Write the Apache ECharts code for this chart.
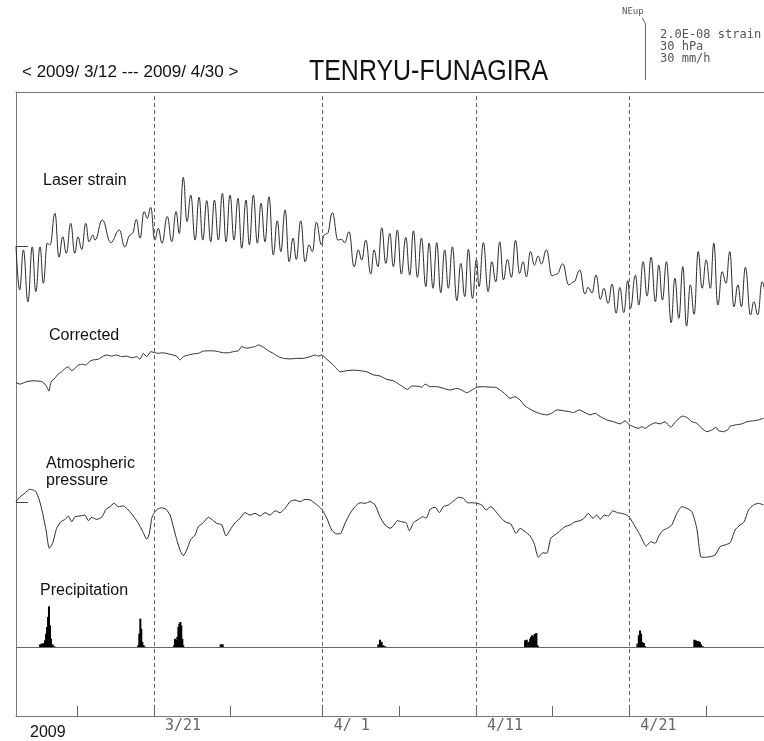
<!DOCTYPE html>
<html><head><meta charset="utf-8">
<script src="https://cdn.jsdelivr.net/npm/echarts@6/dist/echarts.min.js"></script>
<style>html,body{margin:0;padding:0;background:#fff}#c{width:764px;height:741px}</style>
</head><body><div id="c"></div>
<script>
// x values: days since 2009-03-12 00:00 (the plotted window is cut at the right page edge)
const tickDays = [4, 9, 14, 20, 25, 30, 35, 40, 45];
const labelDays = [9, 20, 30, 40];
const labelTexts = ['3/21', '4/ 1', '4/11', '4/21'];
const dashDays = [9, 20, 30, 40];

// Laser strain, 1e-9 strain (relative)
const laserStrain = [[0.00,0.0],[0.24,-15.7],[0.48,-1.4],[0.78,-19.9],[1.06,-0.3],[1.29,-16.3],[1.57,-0.3],[1.78,-13.3],[2.04,1.0],[2.22,0.4],[2.54,11.7],[2.80,-4.0],[3.05,3.3],[3.28,-2.6],[3.57,8.1],[3.83,-2.6],[4.04,3.3],[4.29,-1.2],[4.55,8.1],[4.76,1.5],[5.02,3.9],[5.15,2.1],[5.63,9.3],[6.18,1.2],[6.74,5.7],[7.09,-0.3],[7.44,3.9],[7.59,4.5],[7.85,9.5],[8.09,2.8],[8.35,12.3],[8.56,9.9],[8.79,13.8],[9.05,2.1],[9.28,6.3],[9.52,1.0],[9.87,10.5],[10.16,1.5],[10.44,12.3],[10.65,4.5],[10.91,24.5],[11.15,8.7],[11.40,18.2],[11.68,2.1],[11.94,17.4],[12.18,2.1],[12.44,16.2],[12.70,1.5],[12.94,16.4],[13.20,2.1],[13.46,18.8],[13.70,1.5],[13.96,18.2],[14.22,2.1],[14.48,17.0],[14.72,-0.8],[15.00,16.4],[15.22,0.4],[15.48,18.2],[15.74,1.0],[15.98,15.3],[16.24,1.5],[16.50,17.6],[16.78,-3.2],[17.04,9.0],[17.27,-2.0],[17.55,12.9],[17.81,-5.6],[18.07,2.8],[18.28,-4.8],[18.57,9.0],[18.85,-5.6],[19.11,0.4],[19.33,-2.0],[19.59,8.5],[19.92,0.4],[20.09,3.9],[20.31,4.5],[20.63,11.9],[21.00,2.1],[21.22,2.4],[21.44,1.2],[21.72,5.1],[22.05,-7.4],[22.33,-1.4],[22.55,-5.0],[22.81,2.1],[23.14,-10.0],[23.35,-1.4],[23.61,-7.4],[23.85,6.5],[24.12,-6.2],[24.38,4.5],[24.61,-7.4],[24.87,5.7],[25.13,-10.0],[25.42,3.1],[25.68,-10.4],[25.92,5.4],[26.18,-11.2],[26.44,2.8],[26.73,-14.5],[26.94,1.0],[27.20,-15.1],[27.44,1.2],[27.70,-16.7],[27.96,-1.4],[28.20,-15.1],[28.46,-0.3],[28.75,-19.5],[29.01,-6.2],[29.27,-18.1],[29.50,-1.2],[29.77,-18.7],[30.03,-4.8],[30.20,-14.5],[30.48,1.2],[30.79,-16.3],[31.03,-5.6],[31.29,-12.8],[31.55,1.5],[31.79,-12.1],[32.05,-4.8],[32.31,-11.2],[32.58,2.0],[32.84,-9.8],[33.07,-5.6],[33.29,-11.0],[33.55,-2.0],[33.81,-6.8],[34.05,-3.6],[34.27,-6.4],[34.59,-1.4],[34.96,-10.7],[35.29,-10.0],[35.66,-6.4],[36.05,-13.9],[36.38,-12.8],[36.77,-8.6],[37.10,-17.1],[37.31,-14.8],[37.57,-16.7],[37.83,-10.4],[38.12,-19.0],[38.34,-15.1],[38.62,-20.5],[38.88,-13.6],[39.14,-24.0],[39.38,-14.8],[39.64,-23.8],[39.90,-12.4],[40.07,-22.3],[40.40,-10.4],[40.62,-21.1],[40.90,-5.6],[41.16,-17.9],[41.42,-4.0],[41.70,-19.9],[41.92,-6.8],[42.16,-19.3],[42.42,-5.6],[42.73,-27.4],[42.97,-11.5],[43.23,-25.8],[43.49,-7.4],[43.73,-28.6],[43.98,-13.9],[44.23,-24.4],[44.49,-2.0],[44.75,-15.1],[45.01,-5.0],[45.29,-15.1],[45.51,1.0],[45.77,-21.1],[46.05,-9.2],[46.31,-13.3],[46.55,-2.0],[46.82,-21.7],[47.08,-13.9],[47.31,-21.7],[47.57,-7.6],[47.90,-24.6],[48.12,-19.9],[48.38,-24.6],[48.66,-12.8],[48.92,-19.3]];

// Corrected strain, 1e-9 strain (relative)
const corrected = [[0.00,0.1],[0.26,-0.4],[0.70,0.5],[1.13,0.8],[1.68,0.5],[1.94,-0.7],[2.15,-2.9],[2.26,-0.1],[2.39,1.1],[2.54,1.7],[2.69,2.9],[2.98,4.0],[3.20,5.2],[3.41,5.8],[3.63,4.4],[3.85,5.2],[4.06,6.4],[4.35,6.7],[4.57,6.4],[4.78,7.6],[5.00,8.2],[5.37,8.5],[5.69,9.6],[5.92,10.0],[6.24,9.6],[6.57,10.0],[6.89,9.4],[7.22,9.6],[7.55,9.0],[7.87,9.4],[8.09,8.5],[8.30,10.6],[8.53,9.4],[8.79,11.2],[9.07,10.8],[9.28,10.6],[9.61,10.8],[9.93,10.4],[10.26,10.0],[10.48,9.6],[10.70,8.2],[10.91,9.4],[11.24,10.0],[11.57,10.4],[11.89,10.6],[12.22,11.4],[12.54,11.5],[12.87,11.5],[13.20,11.2],[13.52,10.8],[13.85,10.8],[14.17,11.2],[14.50,11.5],[14.72,13.0],[15.05,12.4],[15.38,12.8],[15.59,13.0],[15.81,13.6],[16.13,12.8],[16.46,11.5],[16.78,10.6],[17.11,9.4],[17.44,8.8],[17.87,8.6],[18.31,8.8],[18.74,8.8],[19.18,9.4],[19.50,10.0],[19.72,9.6],[19.94,10.0],[20.27,8.5],[20.70,6.4],[21.14,4.0],[21.57,4.4],[22.00,4.6],[22.44,4.4],[22.88,4.0],[23.31,2.9],[23.74,2.5],[24.18,1.3],[24.61,0.8],[24.83,0.1],[25.16,-1.1],[25.53,-2.3],[25.81,-1.1],[26.14,-1.1],[26.46,-1.5],[26.68,-0.4],[27.01,-1.3],[27.44,-1.3],[27.87,-1.9],[28.31,-2.5],[28.75,-1.9],[29.07,-2.5],[29.40,-3.5],[29.73,-2.5],[30.05,-1.5],[30.48,-1.3],[30.92,-1.5],[31.25,-1.5],[31.57,-2.5],[31.90,-3.9],[32.22,-5.5],[32.55,-4.9],[32.88,-6.1],[33.14,-7.9],[33.42,-9.0],[33.86,-10.3],[34.29,-11.1],[34.62,-11.4],[34.94,-10.8],[35.27,-9.6],[35.70,-9.9],[36.14,-10.3],[36.35,-10.6],[36.74,-9.6],[37.12,-10.6],[37.44,-11.4],[37.77,-10.8],[38.10,-12.0],[38.53,-13.2],[38.96,-13.8],[39.40,-14.6],[39.73,-13.5],[40.01,-15.0],[40.27,-15.6],[40.59,-16.2],[40.82,-15.6],[41.03,-16.2],[41.36,-15.0],[41.68,-14.2],[42.01,-14.6],[42.33,-13.8],[42.70,-15.8],[43.02,-13.8],[43.46,-11.8],[43.75,-12.3],[44.08,-13.8],[44.40,-14.4],[44.73,-16.2],[45.06,-17.4],[45.38,-16.8],[45.66,-15.8],[45.81,-17.0],[46.14,-17.4],[46.46,-16.5],[46.58,-15.4],[46.90,-15.0],[47.34,-14.6],[47.67,-13.8],[48.10,-13.5],[48.42,-13.2],[48.75,-12.6]];

// Atmospheric pressure, hPa (relative)
const pressure = [[0.00,0.2],[0.26,2.8],[0.59,4.7],[0.87,6.8],[1.13,6.4],[1.30,5.5],[1.52,1.1],[1.74,-6.1],[1.96,-15.0],[2.17,-24.8],[2.39,-22.1],[2.65,-14.1],[2.92,-10.6],[3.20,-9.3],[3.41,-7.5],[3.63,-10.6],[3.85,-7.9],[4.17,-7.5],[4.50,-7.0],[4.72,-10.0],[4.94,-8.2],[5.26,-9.3],[5.59,-8.2],[5.87,-3.9],[6.13,-2.5],[6.39,-0.7],[6.67,-2.5],[7.00,-2.1],[7.33,-4.3],[7.65,-7.5],[7.98,-11.4],[8.27,-15.9],[8.53,-20.0],[8.70,-16.8],[8.85,-8.7],[9.00,-6.1],[9.22,-3.9],[9.50,-3.1],[9.78,-3.9],[10.05,-7.0],[10.26,-13.2],[10.52,-21.3],[10.74,-26.6],[10.91,-28.8],[11.13,-25.7],[11.40,-20.0],[11.68,-17.7],[11.89,-13.2],[12.22,-11.1],[12.54,-8.2],[12.87,-10.0],[13.09,-11.4],[13.42,-12.3],[13.70,-18.2],[13.96,-15.0],[14.29,-11.1],[14.61,-8.7],[14.94,-5.7],[15.26,-7.0],[15.59,-6.1],[15.92,-7.5],[16.24,-5.7],[16.57,-7.0],[16.90,-4.7],[17.22,-5.7],[17.55,-3.4],[17.87,0.2],[18.20,1.1],[18.53,0.2],[18.85,1.4],[19.18,1.1],[19.50,-0.7],[19.94,-3.9],[20.27,-8.7],[20.59,-15.0],[20.92,-17.1],[21.18,-16.8],[21.46,-11.4],[21.79,-6.1],[22.11,-2.5],[22.44,-0.4],[22.77,-0.7],[23.09,0.2],[23.42,-1.6],[23.74,-7.9],[24.07,-12.3],[24.40,-14.1],[24.66,-12.3],[24.87,-10.0],[25.16,-10.6],[25.44,-11.1],[25.66,-15.4],[25.92,-11.1],[26.24,-9.3],[26.53,-7.9],[26.75,-8.7],[27.01,-3.9],[27.33,-2.8],[27.61,-5.7],[27.87,-2.5],[28.20,-1.6],[28.49,0.2],[28.85,2.5],[29.18,2.0],[29.44,-0.4],[29.73,-0.4],[30.05,-0.7],[30.38,-1.6],[30.66,-4.3],[30.97,-2.5],[31.25,-4.7],[31.57,-7.9],[31.90,-10.6],[32.27,-11.8],[32.62,-16.8],[32.88,-14.1],[33.20,-15.9],[33.53,-18.2],[33.79,-22.1],[34.07,-29.6],[34.36,-27.2],[34.62,-27.5],[34.88,-19.4],[35.23,-17.1],[35.49,-15.4],[35.81,-13.2],[36.14,-12.3],[36.46,-10.6],[36.79,-10.0],[37.05,-8.7],[37.33,-6.1],[37.62,-8.7],[37.88,-7.0],[38.10,-9.3],[38.36,-7.0],[38.64,-7.5],[38.92,-4.7],[39.22,-5.7],[39.51,-6.1],[39.84,-7.0],[40.05,-8.7],[40.38,-13.2],[40.70,-17.7],[41.10,-23.6],[41.40,-21.3],[41.68,-22.1],[41.96,-17.7],[42.22,-15.0],[42.48,-14.1],[42.77,-12.3],[43.10,-6.1],[43.42,-2.5],[43.75,-3.4],[44.08,-5.2],[44.40,-14.1],[44.66,-29.3],[44.95,-29.6],[45.27,-29.3],[45.60,-28.4],[45.92,-23.9],[46.25,-23.0],[46.58,-21.8],[46.90,-15.0],[47.23,-12.3],[47.49,-10.6],[47.77,-4.3],[48.10,-1.6],[48.42,-0.7],[48.75,-1.6]];

// Precipitation, mm/h
const precipitation = [[1.57,1.4],[1.68,1.8],[1.78,2.1],[1.89,3.6],[1.96,7.1],[2.02,10.7],[2.09,16.1],[2.15,21.8],[2.22,11.6],[2.28,4.4],[2.39,1.4],[2.50,0.4],
[7.97,0.9],[8.04,7.1],[8.11,15.2],[8.17,9.8],[8.24,2.7],[8.33,0.9],[8.40,0.2],
[10.31,0.9],[10.37,4.4],[10.44,3.6],[10.52,5.4],[10.59,10.7],[10.65,12.5],[10.72,13.4],[10.78,11.6],[10.85,4.4],[10.91,0.9],
[13.35,1.4],[13.42,1.4],[13.48,1.4],
[23.63,1.4],[23.74,3.9],[23.85,2.7],[23.96,0.9],[24.07,0.4],
[33.20,3.6],[33.31,3.9],[33.42,2.7],[33.53,4.4],[33.59,5.4],[33.66,6.3],[33.74,5.4],[33.81,6.8],[33.87,7.1],[33.94,7.5],[34.01,0.9],[34.07,0.2],
[40.53,1.8],[40.62,6.3],[40.70,8.9],[40.77,7.1],[40.85,2.7],[40.95,2.1],[41.03,0.4],
[44.24,3.9],[44.33,3.6],[44.42,3.2],[44.51,3.2],[44.60,2.7],[44.68,1.4],[44.79,0.4]];

// ---- layout ----
const G = {left: 16, top: 92, width: 748, height: 624};
const PX_PER_DAY = 15.333;
const X_MAX = G.width / PX_PER_DAY;   // the window is cut at the page edge
// scale bar: 2.0E-08 strain = 30 hPa = 30 mm/h
const BAR = 56;
const pxStrain = BAR / 20, pxHpa = BAR / 30, pxMm = BAR / 30;
function band(y0, k) { return {min: (y0 - (G.top + G.height)) / k, max: (y0 - G.top) / k}; }
const bStrain = band(246, pxStrain), bCorr = band(383, pxStrain), bPres = band(502, pxHpa), bPrec = band(647, pxMm);

const FONT = 'Liberation Sans, Arial, sans-serif';
const MFONT = 'DejaVu Sans Mono, Liberation Mono, monospace';
const LINE = '#2a2a2a', AX = '#777';

function yAx(b, show) {
  return {type: 'value', min: b.min, max: b.max, show: true, position: 'left',
    axisLine: {show: !!show, onZero: false, lineStyle: {color: AX, width: 1}},
    axisTick: {show: false}, axisLabel: {show: false}, splitLine: {show: false}};
}

const chart = echarts.init(document.getElementById('c'), null, {renderer: 'canvas'});
chart.setOption({
  animation: false,
  backgroundColor: '#fff',
  grid: {left: G.left, top: G.top, width: G.width, height: G.height, containLabel: false},
  xAxis: [
    {type: 'value', min: 0, max: X_MAX, position: 'bottom',
     axisLine: {show: true, onZero: false, lineStyle: {color: AX, width: 1}},
     axisTick: {show: true, inside: true, length: 10, customValues: tickDays, lineStyle: {color: '#666'}},
     axisLabel: {show: true, customValues: labelDays, align: 'left', margin: 3, padding: [0, 0, 0, 11],
       formatter: v => labelTexts[labelDays.indexOf(v)] || '', color: '#666', fontSize: 15, fontFamily: MFONT},
     splitLine: {show: false}},
    {type: 'value', min: 0, max: X_MAX, position: 'top',
     axisLine: {show: true, onZero: false, lineStyle: {color: AX, width: 1}},
     axisTick: {show: false}, axisLabel: {show: false}, splitLine: {show: false}}
  ],
  yAxis: [yAx(bStrain, true), yAx(bCorr), yAx(bPres), yAx(bPrec)],
  series: [
    {type: 'line', name: 'Laser strain', yAxisIndex: 0, data: laserStrain, symbol: 'none',
     smooth: 0.45, smoothMonotone: 'x', lineStyle: {color: LINE, width: 1}, z: 3,
     markLine: {silent: true, symbol: 'none', label: {show: false},
       lineStyle: {color: '#666', width: 1, type: [4, 3]},
       data: dashDays.map(d => ({xAxis: d})).concat([
         [{coord: [0, 0], lineStyle: {type: 'solid', color: '#444'}}, {coord: [0.78, 0]}]
       ])}},
    {type: 'line', name: 'Corrected', yAxisIndex: 1, data: corrected, symbol: 'none',
     smooth: 0.15, lineStyle: {color: LINE, width: 1}, z: 3},
    {type: 'line', name: 'Atmospheric pressure', yAxisIndex: 2, data: pressure, symbol: 'none',
     smooth: 0.2, lineStyle: {color: LINE, width: 1}, z: 3,
     markLine: {silent: true, symbol: 'none', label: {show: false},
       lineStyle: {color: '#444', width: 1, type: 'solid'},
       data: [[{coord: [0, 0]}, {coord: [0.78, 0]}]]}},
    {type: 'bar', name: 'Precipitation', yAxisIndex: 3, data: precipitation, barWidth: 2,
     itemStyle: {color: '#000'}, z: 3,
     markLine: {silent: true, symbol: 'none', label: {show: false},
       lineStyle: {color: '#666', width: 1, type: 'solid'}, data: [{yAxis: 0}]}}
  ],
  graphic: [
    {type: 'text', left: 22, top: 64, style: {text: '< 2009/ 3/12 --- 2009/ 4/30 >', font: '17px ' + FONT, fill: '#111'}},
    {type: 'text', x: 309, y: 57, scaleX: 0.86, style: {text: 'TENRYU-FUNAGIRA', font: '29px ' + FONT, fill: '#111'}},
    {type: 'text', x: 622, y: 7, style: {text: 'NEup', font: '9px ' + MFONT, fill: '#555'}},
    {type: 'line', shape: {x1: 645.5, y1: 80, x2: 645.5, y2: 80 - BAR}, style: {stroke: '#666', lineWidth: 1}},
    {type: 'line', shape: {x1: 645.5, y1: 80 - BAR, x2: 642.5, y2: 80 - BAR - 6}, style: {stroke: '#666', lineWidth: 1}},
    {type: 'text', x: 660, y: 29, style: {text: '2.0E-08 strain', font: '12px ' + MFONT, fill: '#555'}},
    {type: 'text', x: 660, y: 41, style: {text: '30 hPa', font: '12px ' + MFONT, fill: '#555'}},
    {type: 'text', x: 660, y: 53, style: {text: '30 mm/h', font: '12px ' + MFONT, fill: '#555'}},
    {type: 'text', x: 43, y: 173, style: {text: 'Laser strain', font: '16px ' + FONT, fill: '#111'}},
    {type: 'text', x: 49, y: 328, style: {text: 'Corrected', font: '16px ' + FONT, fill: '#111'}},
    {type: 'text', x: 46, y: 456, style: {text: 'Atmospheric', font: '16px ' + FONT, fill: '#111'}},
    {type: 'text', x: 46, y: 473, style: {text: 'pressure', font: '16px ' + FONT, fill: '#111'}},
    {type: 'text', x: 40, y: 583, style: {text: 'Precipitation', font: '16px ' + FONT, fill: '#111'}},
    {type: 'text', x: 30, y: 725, style: {text: '2009', font: '16px ' + FONT, fill: '#111'}}
  ]
});
</script>
</body></html>
